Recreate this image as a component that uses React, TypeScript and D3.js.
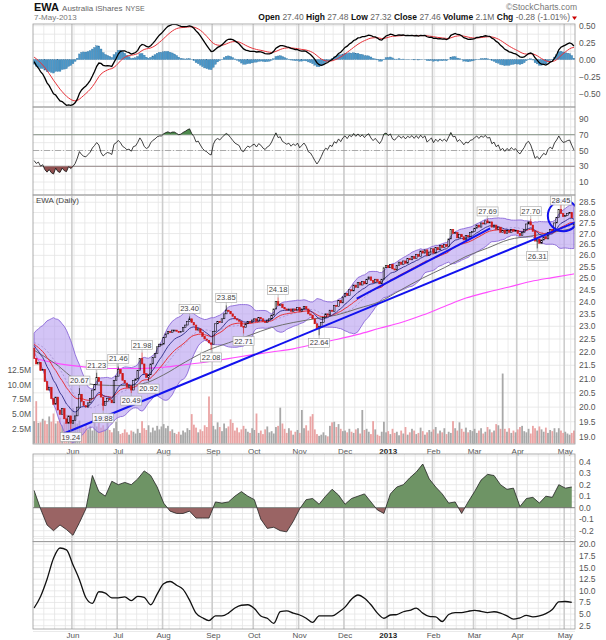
import React from 'react';
import * as d3 from 'd3';

// ---------- data ----------
const holidays = ['2012-05-28', '2012-07-04', '2012-09-03', '2012-10-29', '2012-10-30', '2012-11-22',
  '2012-12-25', '2013-01-01', '2013-01-21', '2013-02-18', '2013-03-29'];

// closes before the first visible bar (only used to seed the indicators)
const warmup = [22.2, 22.35, 22.25, 22.4, 22.3, 22.45, 22.35, 22.5, 22.4, 22.55, 22.45, 22.6, 22.5, 22.4, 22.55, 22.45, 22.35, 22.3, 22.15];

const closes = [
  // May 2012
  21.75, 21.55, 21.6, 21.3, 21.35, 20.9, 20.6, 20.7, 20.3, 20.1, 20.35, 19.9, 19.75, 19.95, 19.6, 19.45, 19.7, 19.45,
  // Jun
  19.55, 19.7, 20.0, 20.45, 20.2, 20.05, 20.0, 20.15, 20.3, 20.6, 20.8, 21.05, 20.9, 20.35, 20.05, 20.2, 20.3, 20.25, 20.15, 20.95, 21.1,
  // Jul
  21.35, 21.2, 20.95, 20.85, 20.7, 20.75, 20.6, 20.95, 21.0, 21.3, 21.75, 21.55, 21.2, 21.05, 21.15, 21.55, 21.8, 21.95, 22.2, 22.3, 22.3,
  // Aug
  22.55, 22.7, 22.8, 22.75, 22.85, 22.85, 22.8, 22.75, 22.8, 22.95, 23.05, 23.2, 23.3, 23.15, 23.05, 22.85, 22.9, 22.75, 22.6, 22.5, 22.45, 22.35, 22.3,
  // Sep
  22.8, 23.1, 23.2, 23.15, 23.3, 23.5, 23.65, 23.6, 23.5, 23.4, 23.3, 23.25, 23.2, 23.0, 22.95, 23.1, 23.2, 23.15, 23.25,
  // Oct
  23.3, 23.2, 23.35, 23.3, 23.2, 23.15, 23.25, 23.3, 23.45, 23.7, 24.0, 23.85, 23.9, 23.75, 23.7, 23.65, 23.7, 23.6, 23.7, 23.65, 23.75,
  // Nov
  23.6, 23.7, 23.8, 23.7, 23.5, 23.45, 23.3, 23.1, 22.9, 23.0, 23.15, 23.35, 23.5, 23.45, 23.65, 23.6, 23.85, 23.8, 24.05, 23.95, 24.2,
  // Dec
  24.35, 24.25, 24.5, 24.45, 24.7, 24.6, 24.8, 24.7, 24.85, 24.75, 24.95, 25.05, 24.9, 24.8, 24.95, 24.85, 24.75, 24.95, 25.45, 25.55,
  // Jan 2013
  25.45, 25.6, 25.4, 25.35, 25.55, 25.7, 25.6, 25.75, 25.65, 25.85, 25.8, 25.95, 25.85, 26.05, 25.95, 26.2, 26.1, 26.25, 26.0, 26.15, 26.3,
  // Feb
  26.1, 26.35, 26.25, 26.45, 26.35, 26.5, 26.4, 26.75, 27.2, 27.0, 27.05, 26.8, 26.95, 26.85, 26.7, 26.9, 26.85, 27.05, 27.1,
  // Mar
  27.25, 27.4, 27.3, 27.5, 27.45, 27.6, 27.5, 27.55, 27.3, 27.4, 27.2, 27.3, 27.05, 27.15, 27.0, 27.15, 27.05, 27.2, 27.1, 27.15,
  // Apr
  27.0, 26.9, 27.05, 27.2, 27.45, 27.55, 27.4, 27.1, 26.65, 26.75, 26.55, 26.7, 26.85, 26.75, 27.05, 27.2, 27.1, 27.5, 27.75, 28.15, 27.95, 27.8,
  // May 2013
  27.85, 27.95, 28.0, 27.74, 27.46,
];

const volumes = [
  3.8, 7.2, 3.5, 3.6, 4.2, 3.9, 3.3, 4.6, 3.7, 5.1, 3.4, 3.8, 4.4, 3.1, 3.6, 4.9, 3.5, 4.2,
  6.0, 5.2, 3.4, 3.9, 2.8, 2.6, 3.3, 2.4, 3.0, 2.2, 3.6, 2.9, 3.5, 2.7, 3.1, 2.5, 3.8, 2.3, 1.9, 2.6, 3.7,
  2.1, 1.6, 1.8, 2.4, 1.9, 1.5, 2.2, 2.0, 1.7, 2.5, 1.8, 3.8, 2.6, 2.3, 3.1, 1.9, 2.7, 2.2, 3.0, 2.4, 2.9,
  3.3, 2.6, 3.0, 2.1, 2.4, 1.8, 1.6, 2.0, 1.5, 2.2, 1.9, 2.6, 2.3, 5.0, 3.2, 2.7, 1.9, 2.4, 2.1, 3.1, 2.8, 8.0, 5.0,
  3.0, 2.4, 3.6, 2.8, 2.1, 3.4, 2.6, 2.9, 4.1, 3.5, 2.2, 2.7, 1.9, 2.4, 3.0, 2.5, 2.0, 1.8, 2.6,
  2.3, 5.1, 1.8, 2.2, 1.6, 2.4, 2.9, 1.9, 2.1, 1.7, 2.8, 3.0, 6.1, 3.4, 2.5, 1.8, 2.6, 2.2, 1.5, 2.0, 2.3,
  1.8, 5.7, 2.6, 3.1, 2.2, 4.6, 5.0, 2.4, 1.6, 1.3, 1.5, 1.9, 1.4, 1.2, 3.0, 3.6, 3.7, 2.8, 3.3, 2.5, 2.1,
  2.2, 1.9, 2.5, 2.0, 1.8, 2.4, 2.6, 1.7, 5.7, 2.3, 2.5, 2.0, 1.6, 3.8, 2.4, 1.5, 1.3, 2.0, 3.7, 1.9,
  2.1, 1.6, 2.5, 1.8, 2.0, 1.4, 2.2, 1.7, 2.8, 1.5, 1.9, 2.5, 2.2, 1.6, 1.8, 2.7, 2.1, 1.5, 1.9, 2.3, 2.0,
  2.4, 2.8, 1.7, 2.2, 1.9, 2.6, 1.6, 2.0, 1.8, 3.8, 2.6, 2.2, 3.6, 2.5, 2.0, 2.7, 1.9, 2.3, 2.1,
  2.5, 1.8, 2.2, 2.6, 1.7, 2.0, 2.8, 2.4, 1.9, 2.2, 3.3, 3.1, 2.5, 11.9, 2.5, 2.0, 2.6, 1.8, 2.2, 1.9,
  2.4, 2.8, 3.0, 2.1, 1.9, 2.5, 1.7, 3.0, 2.6, 2.2, 2.9, 2.4, 2.0, 2.7, 1.8, 2.3, 2.1, 2.6, 1.9, 2.6, 2.2, 1.8,
  2.0, 1.7, 1.5, 1.8, 2.2,
];

// 50-day and 200-day averages, one value every 10 bars
const ma50 = [22.07, 21.55, 20.95, 20.78, 20.76, 20.82, 21.15, 21.62, 22.05, 22.35, 22.65, 22.95, 23.15,
  23.3, 23.45, 23.72, 24.0, 24.5, 25.0, 25.45, 25.95, 26.33, 26.72, 26.88, 27.05, 27.25];
const ma200 = [21.77, 21.58, 21.47, 21.4, 21.38, 21.38, 21.43, 21.52, 21.62, 21.75, 21.88, 22.0, 22.12,
  22.3, 22.48, 22.68, 22.92, 23.15, 23.45, 23.8, 24.15, 24.4, 24.62, 24.85, 25.02, 25.18];

// lower panels, one value every 3 bars
const cmf = [0.15, -0.01, -0.15, -0.2, -0.15, -0.19, -0.24, -0.13, -0.01, 0.28,
  0.14, 0.1, 0.23, 0.2, 0.22, 0.2, 0.25, 0.32, 0.28, 0.18,
  0.04, -0.03, -0.05, -0.05, -0.03, -0.09, -0.09, -0.09, 0.05, 0.04,
  0.05, 0.1, 0.14, 0.1, 0.07, -0.1, -0.18, -0.17, -0.2, -0.21,
  -0.12, -0.01, 0.07, 0.08, 0.03, 0.1, 0.16, 0.11, 0.03, 0.08,
  0.1, 0.12, 0.05, -0.02, -0.05, 0.12, 0.18, 0.2, 0.26, 0.31,
  0.38, 0.25, 0.18, 0.12, 0.04, 0.05, -0.05, 0.05, 0.14, 0.24,
  0.29, 0.28, 0.2, 0.16, 0.17, 0.01, 0.08, 0.09, 0.04, 0.1,
  0.09, 0.2, 0.17, 0.18];
const lowerLine = [6.3, 8.8, 12.5, 17.0, 19.2, 18.8, 15.6, 12.4, 8.5, 7.3,
  9.8, 9.5, 8.5, 8.5, 8.7, 7.9, 8.8, 8.6, 7.0, 9.3,
  11.5, 12.0, 11.2, 10.3, 8.0, 5.2, 4.2, 3.6, 4.6, 4.6,
  5.2, 6.3, 6.9, 7.0, 6.2, 4.6, 4.1, 3.0, 5.5, 5.7,
  5.2, 4.8, 4.1, 3.2, 4.6, 4.6, 4.6, 5.4, 6.5, 8.2,
  9.1, 8.4, 7.0, 5.2, 4.1, 4.8, 4.9, 5.5, 5.8, 6.3,
  5.2, 4.5, 4.4, 3.4, 4.9, 5.3, 5.3, 5.6, 5.8, 5.6,
  5.3, 5.5, 5.2, 4.6, 3.9, 4.2, 4.7, 4.4, 4.6, 5.1,
  6.0, 7.6, 7.7, 7.5];

// labelled highs and lows
const extremes = [
  { i: 17, v: 19.24, t: 'l' }, { i: 21, v: 20.67, t: 'h' }, { i: 29, v: 21.23, t: 'h' },
  { i: 32, v: 19.88, t: 'l' }, { i: 39, v: 21.46, t: 'h' }, { i: 45, v: 20.49, t: 'l' },
  { i: 50, v: 21.98, t: 'h' }, { i: 53, v: 20.92, t: 'l' }, { i: 72, v: 23.40, t: 'h' },
  { i: 82, v: 22.08, t: 'l' }, { i: 89, v: 23.85, t: 'h' }, { i: 97, v: 22.71, t: 'l' },
  { i: 113, v: 24.18, t: 'h' }, { i: 132, v: 22.64, t: 'l' }, { i: 210, v: 27.69, t: 'h' },
  { i: 230, v: 27.70, t: 'h' }, { i: 233, v: 26.31, t: 'l' }, { i: 244, v: 28.45, t: 'h' },
];

// drawn trend lines [bar, price, bar, price] and the circle
const trendLines = [[13.5, 19.1, 251.4, 27.56], [149.4, 24.13, 211.2, 27.24]];
const ring = { i: 245.1, v: 27.84, r: 15.5 };

const quote = [['Open', '27.40'], ['High', '27.48'], ['Low', '27.32'], ['Close', '27.46'], ['Volume', '2.1M'], ['Chg', '-0.28 (-1.01%)']];
const lastOpen = 27.40;
const monthTicks = ['Jun', 'Jul', 'Aug', 'Sep', 'Oct', 'Nov', 'Dec', '2013', 'Feb', 'Mar', 'Apr', 'May'];
const priceTicks = d3.range(19, 28.51, 0.5);
const volTicks = [2.5, 5, 7.5, 10, 12.5];
const macdTicks = [0.5, 0.25, 0, -0.25, -0.5];
const rsiTicks = [90, 70, 50, 30, 10];
const cmfTicks = [0.4, 0.3, 0.2, 0.1, 0, -0.1, -0.2];
const lowTicks = [20, 17.5, 15, 12.5, 10, 7.5, 5, 2.5];

// ---------- layout ----------
const FONT = '"Liberation Sans", Arial, sans-serif';
const L = 33, R = 575;
const P = {
  macd: [24, 107], rsi: [107, 195], main: [195, 444], cmf: [454, 541.5], low: [541.5, 629],
};

// ---------- indicators ----------
const all = [...warmup, ...closes];
const off = warmup.length;
const ema = (arr: number[], n: number) => {
  const k = 2 / (n + 1); let e = arr[0];
  return arr.map((v, i) => (e = i === 0 ? v : v * k + e * (1 - k)));
};
const e12 = ema(all, 12), e26 = ema(all, 26);
const macdAll = e12.map((v, i) => v - e26[i]);
const sigAll = ema(macdAll, 9);
const macd = macdAll.slice(off), signal = sigAll.slice(off);
const hist = macd.map((v, i) => v - signal[i]);
const ema10 = ema(all, 10).slice(off), ema20 = ema(all, 20).slice(off);

const rsiAll: number[] = [];
{
  let ag = 0, al = 0; const n = 14;
  for (let i = 1; i < all.length; i++) {
    const d = all[i] - all[i - 1];
    const g = Math.max(d, 0), l = Math.max(-d, 0);
    if (i <= n) { ag += g / n; al += l / n; } else { ag = (ag * (n - 1) + g) / n; al = (al * (n - 1) + l) / n; }
    rsiAll[i] = al === 0 ? 100 : 100 - 100 / (1 + ag / al);
  }
}
const rsi = rsiAll.slice(off);

const bb = closes.map((_, i) => {
  const w = all.slice(off + i - 19, off + i + 1);
  const m = d3.mean(w) as number;
  const sd = Math.sqrt(d3.mean(w, v => (v - m) ** 2) as number);
  return { m, u: m + 2 * sd, l: m - 2 * sd };
});

// trading calendar
const fmt = d3.timeFormat('%Y-%m-%d');
const dates: Date[] = [];
for (let d = new Date(2012, 4, 7); dates.length < closes.length; d.setDate(d.getDate() + 1)) {
  const wd = d.getDay();
  if (wd === 0 || wd === 6 || holidays.includes(fmt(d))) continue;
  dates.push(new Date(d));
}
const monthStarts = dates.map((d, i) => i).filter(i => i > 0 && dates[i].getMonth() !== dates[i - 1].getMonth());
const weekStarts = dates.map((d, i) => i).filter(i => i > 0 && +d3.timeMonday.floor(dates[i]) !== +d3.timeMonday.floor(dates[i - 1]));

// ---------- scales ----------
const x = d3.scaleLinear().domain([-0.5, closes.length - 0.5]).range([L, R]);
const bw = x(1) - x(0);
const yMacd = d3.scaleLinear().domain([-0.5, 0.5]).range([93.5, 25.7]);
const yRsi = d3.scaleLinear().domain([10, 90]).range([182, 119]);
const yP = d3.scaleLog().domain([19, 28]).range([436.8, 212.5]);
const yV = d3.scaleLinear().domain([0, 12.5]).range([443.5, 370]);
const yCmf = d3.scaleLinear().domain([-0.2, 0.4]).range([530.7, 461.7]);
const yLow = d3.scaleLinear().domain([2.5, 20]).range([625.7, 544.3]);

const opens = closes.map((c, i) => (i === closes.length - 1 ? lastOpen : i === 0 ? warmup[warmup.length - 1] : closes[i - 1]));

const lineOf = (ys: (v: number) => number, step = 1, curve: d3.CurveFactory = d3.curveLinear) =>
  d3.line<number>().x((_, i) => x(i * step)).y(v => ys(v)).curve(curve);

const GRID = '#e4e4e4';
const MONTH_GRID = '#cdcdcd';
const AXIS = '#555';

function VGrid({ top, bot }: { top: number; bot: number }) {
  return (
    <g>
      {weekStarts.map(i => <line key={'w' + i} x1={x(i) - bw / 2} x2={x(i) - bw / 2} y1={top} y2={bot} stroke={GRID} strokeWidth={0.8} />)}
      {monthStarts.map(i => <line key={'m' + i} x1={x(i) - bw / 2} x2={x(i) - bw / 2} y1={top} y2={bot} stroke={MONTH_GRID} strokeWidth={1.6} />)}
    </g>
  );
}

function HGrid({ vals, ys }: { vals: number[]; ys: (v: number) => number }) {
  return <g>{vals.map((v, k) => <line key={k} x1={L} x2={R} y1={ys(v)} y2={ys(v)} stroke={GRID} strokeWidth={0.8} />)}</g>;
}

function RightLabels({ vals, ys, f }: { vals: number[]; ys: (v: number) => number; f: (v: number) => string }) {
  return (
    <g fontSize={8.5} fill={AXIS} fontFamily={FONT}>
      {vals.map((v, k) => <text key={k} x={R + 4} y={ys(v) + 3}>{f(v)}</text>)}
    </g>
  );
}

function Frame({ p }: { p: number[] }) {
  return <rect x={L} y={p[0]} width={R - L} height={p[1] - p[0]} fill="none" stroke="#9a9a9a" strokeWidth={0.8} />;
}

function MonthLabels({ y }: { y: number }) {
  return (
    <g fontSize={8} fill={AXIS} fontFamily={FONT} textAnchor="middle">
      {monthStarts.map((i, k) => (
        <text key={k} x={x(i)} y={y} fontWeight={monthTicks[k] === '2013' ? 'bold' : 'normal'} fill={monthTicks[k] === '2013' ? '#222' : AXIS}>{monthTicks[k]}</text>
      ))}
    </g>
  );
}

export default function App() {
  const macdLine = lineOf(yMacd)(macd) as string;
  const sigLine = lineOf(yMacd)(signal) as string;
  const rsiLine = lineOf(yRsi)(rsi) as string;
  const rsiArea = (base: number) => d3.area<number>().x((_, i) => x(i)).y0(yRsi(base)).y1(v => yRsi(v))(rsi) as string;
  const bandArea = d3.area<{ u: number; l: number }>().x((_, i) => x(i)).y0(d => yP(d.l)).y1(d => yP(d.u))(bb) as string;
  const cmfArea = d3.area<number>().x((_, i) => x(i * 3)).y0(yCmf(0)).y1(v => yCmf(v))(cmf) as string;

  const fine = (lo: number, hi: number, st: number) => d3.range(lo, hi + st / 2, st);

  return (
    <svg width={606} height={640} style={{ position: 'absolute', left: 0, top: 0, background: '#fff' }} fontFamily={FONT}>
      <defs>
        <clipPath id="cMacd"><rect x={L} y={P.macd[0]} width={R - L} height={P.macd[1] - P.macd[0]} /></clipPath>
        <clipPath id="cMain"><rect x={L} y={P.main[0]} width={R - L} height={P.main[1] - P.main[0]} /></clipPath>
        <clipPath id="cRsiHi"><rect x={L} y={P.rsi[0]} width={R - L} height={yRsi(70) - P.rsi[0]} /></clipPath>
        <clipPath id="cRsiLo"><rect x={L} y={yRsi(30)} width={R - L} height={P.rsi[1] - yRsi(30)} /></clipPath>
        <clipPath id="cCmfHi"><rect x={L} y={P.cmf[0]} width={R - L} height={yCmf(0) - P.cmf[0]} /></clipPath>
        <clipPath id="cCmfLo"><rect x={L} y={yCmf(0)} width={R - L} height={P.cmf[1] - yCmf(0)} /></clipPath>
      </defs>

      {/* header */}
      <text x={34} y={11} fill="#666">
        <tspan fontSize={11} fontWeight="bold" fill="#111">EWA</tspan>
        <tspan fontSize={8} dx={3}>Australia iShares</tspan>
        <tspan fontSize={7} dx={3}>NYSE</tspan>
      </text>
      <text x={34} y={20} fontSize={8} fill="#777">7-May-2013</text>
      <text x={577} y={10} fontSize={8.5} fill="#777" textAnchor="end">©StockCharts.com</text>
      <text x={570} y={20} fontSize={8.5} textAnchor="end">
        {quote.map(([k, v], n) => (
          <React.Fragment key={n}>
            <tspan fontWeight="bold" fill="#111">{(n ? ' ' : '') + k}</tspan>
            <tspan fill="#666">{' ' + v}</tspan>
          </React.Fragment>
        ))}
      </text>
      <path d="M572,16.5 L577,16.5 L574.5,20 Z" fill="#c00" />

      {/* MACD */}
      <HGrid vals={fine(-0.625, 0.5, 0.125)} ys={yMacd} />
      <VGrid top={P.macd[0]} bot={P.macd[1]} />
      <g clipPath="url(#cMacd)">
        {hist.map((h, i) => (
          <rect key={i} x={x(i) - bw * 0.45} width={bw * 0.9} y={Math.min(yMacd(0), yMacd(h))} height={Math.abs(yMacd(h) - yMacd(0))}
            fill="#4a97c9" stroke="#2f6f9c" strokeWidth={0.3} />
        ))}
        <path d={sigLine} fill="none" stroke="#e8333a" strokeWidth={1} />
        <path d={macdLine} fill="none" stroke="#000" strokeWidth={1.3} />
      </g>
      <Frame p={P.macd} />
      <RightLabels vals={macdTicks} ys={yMacd} f={v => d3.format('.2f')(v)} />

      {/* RSI */}
      <HGrid vals={fine(0, 100, 10)} ys={yRsi} />
      <VGrid top={P.rsi[0]} bot={P.rsi[1]} />
      <line x1={L} x2={R} y1={yRsi(70)} y2={yRsi(70)} stroke="#999" strokeWidth={1} />
      <line x1={L} x2={R} y1={yRsi(30)} y2={yRsi(30)} stroke="#999" strokeWidth={1} />
      <line x1={L} x2={R} y1={yRsi(50)} y2={yRsi(50)} stroke="#999" strokeWidth={0.8} strokeDasharray="6,2,1,2" />
      <path d={rsiArea(70)} fill="#4d8a4d" clipPath="url(#cRsiHi)" />
      <path d={rsiArea(30)} fill="#8f4f4f" clipPath="url(#cRsiLo)" />
      <path d={rsiLine} fill="none" stroke="#111" strokeWidth={0.8} />
      <Frame p={P.rsi} />
      <RightLabels vals={rsiTicks} ys={yRsi} f={v => String(v)} />

      {/* main price panel */}
      <HGrid vals={priceTicks} ys={yP} />
      <VGrid top={P.main[0]} bot={P.main[1]} />
      <g clipPath="url(#cMain)">
        {volumes.map((v, i) => (
          <rect key={i} x={x(i) - bw * 0.42} width={bw * 0.84} y={yV(v)} height={yV(0) - yV(v)}
            fill={i > 0 && closes[i] < closes[i - 1] ? '#eaa4a4' : '#a8a8a8'} />
        ))}
        <path d={bandArea} fill="#b89ff0" fillOpacity={0.62} stroke="#8a68d8" strokeWidth={0.9} />
        <path d={lineOf(yP)(bb.map(d => d.m)) as string} fill="none" stroke="#9b86c9" strokeWidth={0.7} strokeDasharray="2,2" />
        <path d={lineOf(yP, 10, d3.curveMonotoneX)(ma200) as string} fill="none" stroke="#ff4cff" strokeWidth={1.1} />
        <path d={lineOf(yP, 10, d3.curveMonotoneX)(ma50) as string} fill="none" stroke="#6e6e6e" strokeWidth={1} />
        <path d={lineOf(yP)(ema20) as string} fill="none" stroke="#e8333a" strokeWidth={1} />
        <path d={lineOf(yP)(ema10) as string} fill="none" stroke="#2c2a86" strokeWidth={0.9} />
        {extremes.map((e, k) => {
          const body = e.t === 'h' ? Math.max(opens[e.i], closes[e.i]) : Math.min(opens[e.i], closes[e.i]);
          return <line key={'wk' + k} x1={x(e.i)} x2={x(e.i)} y1={yP(body)} y2={yP(e.v)} stroke={closes[e.i] < opens[e.i] ? '#d01818' : '#000'} strokeWidth={0.7} />;
        })}
        {closes.map((c, i) => {
          const o = opens[i];
          const up = c >= o;
          const y1 = yP(Math.max(o, c)), y2 = yP(Math.min(o, c));
          return <rect key={i} x={x(i) - 0.8} y={y1} width={1.6} height={Math.max(0.9, y2 - y1)}
            fill={up ? 'none' : '#d01818'} stroke={up ? '#000' : '#d01818'} strokeWidth={0.55} />;
        })}
        {trendLines.map((t, k) => (
          <line key={k} x1={x(t[0])} y1={yP(t[1])} x2={x(t[2])} y2={yP(t[3])} stroke="#1212ee" strokeWidth={2} />
        ))}
        <circle cx={x(ring.i)} cy={yP(ring.v)} r={ring.r} fill="none" stroke="#1212ee" strokeWidth={2} />
      </g>
      {extremes.map((e, k) => {
        const cx = x(e.i);
        const py = yP(e.v);
        const bh = 9, bwid = 21;
        const by = e.t === 'h' ? Math.max(P.main[0] + 1, py - 3 - bh) : py + 3;
        return (
          <g key={'ex' + k}>
            <line x1={cx} x2={cx} y1={py} y2={e.t === 'h' ? by + bh : by} stroke="#999" strokeWidth={0.6} />
            <rect x={cx - bwid / 2} y={by} width={bwid} height={bh} fill="#fff" fillOpacity={0.9} stroke="#a0a0a0" strokeWidth={0.6} />
            <text x={cx} y={by + 7} fontSize={7.5} fill="#444" textAnchor="middle">{e.v.toFixed(2)}</text>
          </g>
        );
      })}
      <text x={36} y={203} fontSize={8} fill="#444">EWA (Daily)</text>
      <Frame p={P.main} />
      <RightLabels vals={priceTicks} ys={yP} f={v => v.toFixed(1)} />
      <g fontSize={8.5} fill={AXIS} textAnchor="end">
        {volTicks.map((v, k) => <text key={k} x={31} y={yV(v) + 3}>{v.toFixed(1) + 'M'}</text>)}
      </g>
      <MonthLabels y={454} />

      {/* money flow panel */}
      <HGrid vals={fine(-0.3, 0.45, 0.05)} ys={yCmf} />
      <VGrid top={P.cmf[0]} bot={P.cmf[1]} />
      <g>
        <path d={cmfArea} fill="#6e9465" clipPath="url(#cCmfHi)" />
        <path d={cmfArea} fill="#9a6464" clipPath="url(#cCmfLo)" />
        <line x1={L} x2={R} y1={yCmf(0)} y2={yCmf(0)} stroke="#666" strokeWidth={0.8} />
        <path d={lineOf(yCmf, 3)(cmf) as string} fill="none" stroke="#222" strokeWidth={0.8} />
      </g>
      <Frame p={P.cmf} />
      <RightLabels vals={cmfTicks} ys={yCmf} f={v => v.toFixed(1)} />

      {/* lowest panel */}
      <HGrid vals={fine(1.25, 21.25, 1.25)} ys={yLow} />
      <VGrid top={P.low[0]} bot={P.low[1]} />
      <path d={lineOf(yLow, 3, d3.curveMonotoneX)(lowerLine) as string} fill="none" stroke="#111" strokeWidth={1.3} />
      <Frame p={P.low} />
      <RightLabels vals={lowTicks} ys={yLow} f={v => v.toFixed(1)} />
      <MonthLabels y={638} />
    </svg>
  );
}
